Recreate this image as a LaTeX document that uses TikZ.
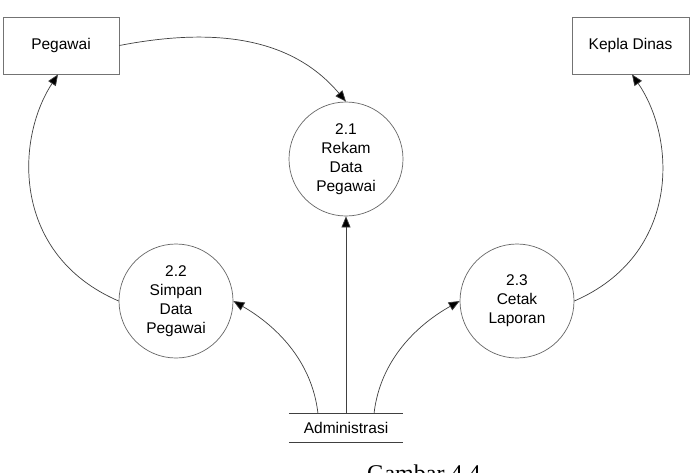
\documentclass[tikz,border=0pt]{standalone}
\usepackage{fontspec}
\setmainfont{Liberation Sans}
\newfontfamily\capfont{Liberation Serif}
\usetikzlibrary{arrows.meta}
\begin{document}
\begin{tikzpicture}[x=1pt,y=-1pt,
  line/.style={draw=black!75, line width=0.7pt},
  flow/.style={line, -{Triangle[length=11pt,width=9pt,fill=black]}},
  entity/.style={draw=black!55, line width=0.8pt, rectangle, inner sep=0pt,
    minimum height=57pt, font=\fontsize{15.5}{19}\selectfont},
  proc/.style={draw=black!60, line width=0.7pt, circle, minimum size=114pt,
    inner sep=0pt, align=center, font=\fontsize{15.5}{19}\selectfont},
  store/.style={rectangle, minimum width=114pt, minimum height=28pt, inner sep=0pt,
    font=\fontsize{15.5}{19}\selectfont}]
\useasboundingbox (0,0) rectangle (698,472);
\clip (0,0) rectangle (698,472);
\fill[white] (0,0) rectangle (698,472);

\node[entity, minimum width=116pt] (peg) at (61,45.5) {Pegawai};
\node[entity, minimum width=117pt] (kep) at (630.5,45.5) {Kepla Dinas};

\node[proc] (c1) at (346,159) {2.1\\Rekam\\Data\\Pegawai};
\node[proc] (c2) at (176,301) {2.2\\Simpan\\Data\\Pegawai};
\node[proc] (c3) at (517,301) {2.3\\Cetak\\Laporan};

\node[store] (adm) at (346,428) {Administrasi};
\draw[line] (adm.north west) -- (adm.north east);
\draw[line] (adm.south west) -- (adm.south east);

\coordinate (admL) at ([xshift=-28pt]adm.north);
\coordinate (admR) at ([xshift=28pt]adm.north);

% Pegawai -> 2.1
\draw[flow] (peg.east) .. controls (210,28) and (290,35) .. (c1.north);
% 2.2 -> Pegawai
\draw[flow] (c2.west) .. controls (12,255) and (15,140) .. ([xshift=-3pt]peg.south);
% 2.3 -> Kepla Dinas
\draw[flow] (c3.east) .. controls (680,255) and (677,140) .. ([xshift=1.5pt]kep.south);
% Administrasi -> 2.1
\draw[flow] (adm.north) -- (c1.south);
% Administrasi -> 2.2
\draw[flow] (admL) .. controls (312,360) and (275,325) .. (c2.east);
% Administrasi -> 2.3
\draw[flow] (admR) .. controls (380,360) and (417,325) .. (c3.west);

\node[anchor=base west, inner sep=0pt, font=\capfont\fontsize{24}{28}\selectfont] (cap) at (367,481) {Gambar 4.4};
\end{tikzpicture}
\end{document}
